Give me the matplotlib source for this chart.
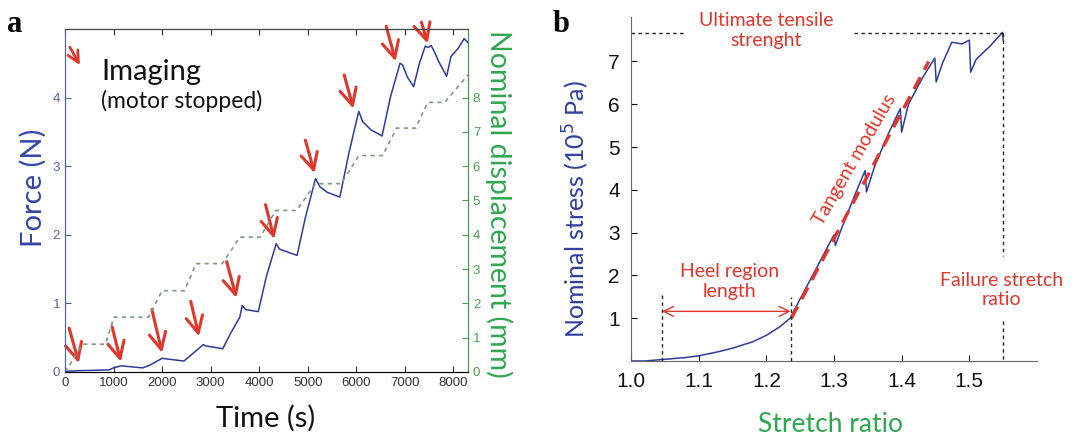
import numpy as np
import matplotlib
matplotlib.use('Agg')
import matplotlib.pyplot as plt

# panel a: force (N) vs time (s)
force_t = [0, 300, 900, 1000, 1150, 1300, 1600, 1750, 2000, 2100, 2450, 2600, 2850, 2900,
           3250, 3400, 3600, 3650, 3720, 3980, 4150, 4350, 4420, 4780, 4950, 5160, 5250,
           5400, 5660, 5850, 6050, 6130, 6300, 6530, 6700, 6900, 6950, 7050, 7180, 7300,
           7420, 7480, 7540, 7600, 7700, 7860, 7950, 8100, 8220, 8300]
force_n = [0.01, 0.02, 0.03, 0.06, 0.09, 0.08, 0.06, 0.10, 0.20, 0.19, 0.16, 0.25, 0.40, 0.38,
           0.34, 0.55, 0.80, 0.97, 0.91, 0.88, 1.40, 1.87, 1.79, 1.70, 2.25, 2.82, 2.70,
           2.62, 2.55, 3.20, 3.80, 3.65, 3.53, 3.44, 4.00, 4.50, 4.48, 4.30, 4.16, 4.50,
           4.75, 4.73, 4.76, 4.68, 4.52, 4.31, 4.60, 4.72, 4.86, 4.80]

# panel a: nominal displacement (mm), stepwise
disp_t = [0, 370, 830, 1010, 1720, 2000, 2460, 2700, 3240, 3600, 4020, 4340, 4770,
          5160, 5690, 6050, 6540, 6830, 7220, 7470, 7820, 8300]
disp_mm = [0, 0.81, 0.81, 1.60, 1.60, 2.37, 2.37, 3.16, 3.16, 3.93, 3.93, 4.71, 4.71,
           5.49, 5.49, 6.31, 6.31, 7.11, 7.11, 7.86, 7.86, 8.66]

# imaging arrows: (tail t, tail F, tip t, tip F)
arrow_tail_t = [85, 970, 1790, 2590, 3330, 4130, 4950, 5750, 6615, 7340]
arrow_tail_f = [0.64, 0.66, 0.91, 1.03, 1.61, 2.44, 3.38, 4.33, 5.04, 5.10]
arrow_tip_t = [285, 1150, 2000, 2760, 3530, 4310, 5140, 5940, 6810, 7470]
arrow_tip_f = [0.13, 0.15, 0.28, 0.52, 1.08, 1.94, 2.90, 3.84, 4.53, 4.79]

# panel b: nominal stress vs stretch ratio
stretch = [1.00, 1.02, 1.05, 1.08, 1.10, 1.13, 1.15, 1.18, 1.20, 1.22, 1.235, 1.25, 1.27,
           1.29, 1.300, 1.302, 1.31, 1.33, 1.346, 1.348, 1.36, 1.38, 1.398, 1.400, 1.41,
           1.43, 1.449, 1.451, 1.46, 1.474, 1.489, 1.500, 1.502, 1.51, 1.53, 1.549, 1.550]
stress = [0.0, 0.0, 0.04, 0.08, 0.12, 0.22, 0.30, 0.45, 0.60, 0.80, 1.00, 1.45, 2.05,
          2.65, 2.95, 2.70, 3.05, 3.85, 4.45, 3.95, 4.55, 5.30, 5.90, 5.35, 6.00,
          6.60, 7.08, 6.52, 6.95, 7.45, 7.41, 7.50, 6.75, 7.05, 7.35, 7.68, 7.50]

tangent_x = [1.237, 1.44]
tangent_y = [1.0, 7.0]
uts = 7.67
failure_ratio = 1.55
heel_start, heel_end = 1.046, 1.236

blue = '#2e3c9c'
green = '#2ea84f'
red = '#e2352b'
sans = ['Lato', 'DejaVu Sans']

fig = plt.figure(figsize=(10.78, 4.38), dpi=100)
W, H = 1078, 438

def frac(px, py):
    return px / W, 1 - py / H

# ---------- panel a ----------
ax = fig.add_axes([65 / W, 1 - 372 / H, 403 / W, 343 / H])
ax.plot(force_t, force_n, color=blue, lw=1.1)
ax.set_xlim(0, 8300)
ax.set_ylim(0, 5)
ax.set_xticks(range(0, 8001, 1000))
ax.set_yticks([0, 1, 2, 3, 4])
ax.tick_params(direction='in', length=4, labelsize=9.5, top=True, labelfontfamily='Liberation Sans')
ax.tick_params(axis='x', colors='#333333')
ax.tick_params(axis='y', colors='#5661b0')
ax.spines['left'].set_color('#5661b0')
ax.spines['top'].set_color('#444444')
ax.spines['bottom'].set_color('#444444')

ax2 = ax.twinx()
ax2.plot(disp_t, disp_mm, color='#7d9a7d', lw=1.2, dashes=(2.5, 2.5))
ax2.set_ylim(0, 10)
ax2.set_yticks(range(0, 9))
ax2.tick_params(direction='in', length=4, labelsize=9.5, colors='#4aa050', labelfontfamily='Liberation Sans')
ax2.spines['right'].set_color('#4aa050')
ax2.spines['left'].set_color('#5661b0')
ax2.spines['top'].set_color('#444444')

head = '->, head_length=0.5, head_width=0.25'
for i in range(len(arrow_tip_t)):
    ax.annotate('', xy=(arrow_tip_t[i], arrow_tip_f[i]),
                xytext=(arrow_tail_t[i], arrow_tail_f[i]),
                arrowprops=dict(arrowstyle=head, color=red, lw=2.2,
                                mutation_scale=24, shrinkA=0, shrinkB=0),
                annotation_clip=False, zorder=5)

ax.annotate('', xy=(0.037, 0.895), xytext=(0.012, 0.947), xycoords='axes fraction',
            arrowprops=dict(arrowstyle=head, color=red, lw=2.0, mutation_scale=16,
                            shrinkA=0, shrinkB=0))
ax.text(0.09, 0.85, 'Imaging', transform=ax.transAxes, fontsize=21,
        family=sans, color='#111111')
ax.text(0.09, 0.77, '(motor stopped)', transform=ax.transAxes, fontsize=16.5,
        family=sans, color='#111111')

fig.text(*frac(33, 188), 'Force (N)', rotation=90, ha='center', va='center',
         fontsize=21, family=sans, color='#3447a8')
fig.text(*frac(499, 204), 'Nominal displacement (mm)', rotation=-90, ha='center',
         va='center', fontsize=20.5, family=sans, color=green)
fig.text(*frac(266, 418), 'Time (s)', ha='center', va='center', fontsize=21,
         family=sans, color='#111111')
fig.text(*frac(15, 25), 'a', ha='center', va='center', fontsize=22,
         family='Liberation Serif', weight='bold')

# ---------- panel b ----------
bx = fig.add_axes([631 / W, 1 - 361 / H, 406 / W, 344 / H])
bx.plot(stretch, stress, color=blue, lw=1.1)
bx.plot(tangent_x, tangent_y, color=red, lw=2.4, dashes=(4, 2.5))
bx.set_xlim(1.0, 1.6)
bx.set_ylim(0, 8.04)
bx.set_xticks([1.0, 1.1, 1.2, 1.3, 1.4, 1.5])
bx.set_xticklabels(['1.0', '1.1', '1.2', '1.3', '1.4', '1.5'])
bx.set_yticks(range(1, 8))
bx.tick_params(direction='in', length=4, labelsize=15, colors='#111111',
               labelfontfamily='Liberation Sans', pad=8)
for s in ['top', 'right']:
    bx.spines[s].set_visible(False)
bx.spines['left'].set_color('#666666')
bx.spines['bottom'].set_color('#666666')

dash_kw = dict(color='#222222', lw=1.0, dashes=(2.5, 2.5))
bx.plot([1.0, 1.077], [uts, uts], **dash_kw)
bx.plot([1.33, failure_ratio], [uts, uts], **dash_kw)
bx.plot([failure_ratio, failure_ratio], [uts, 2.45], **dash_kw)
bx.plot([failure_ratio, failure_ratio], [0.93, 0], **dash_kw)
bx.plot([heel_start, heel_start], [0, 1.55], **dash_kw)
bx.plot([heel_end, heel_end], [0, 1.5], **dash_kw)
bx.annotate('', xy=(heel_start, 1.16), xytext=(heel_end, 1.16),
            arrowprops=dict(arrowstyle='<->', color=red, lw=1.0, mutation_scale=18,
                            shrinkA=0, shrinkB=0))

ann = dict(color=red, fontsize=14, family=sans, ha='center', va='center')
bx.text(1.2, 7.72, 'Ultimate tensile\nstrenght', clip_on=False, **ann)
bx.text(1.33, 4.71, 'Tangent modulus', rotation=60, **ann)
bx.text(1.145, 1.86, 'Heel region\nlength', **ann)
bx.text(1.548, 1.66, 'Failure stretch\nratio', **ann)

fig.text(*frac(576, 209), 'Nominal stress (10$^{5}$ Pa)', rotation=90, ha='center',
         va='center', fontsize=18, family=sans, color='#2f3fa0')
fig.text(*frac(830, 424), 'Stretch ratio', ha='center', va='center', fontsize=19,
         family=sans, color=green)
fig.text(*frac(561, 24), 'b', ha='center', va='center', fontsize=22,
         family='Liberation Serif', weight='bold')

fig.savefig('out.png', dpi=100)
